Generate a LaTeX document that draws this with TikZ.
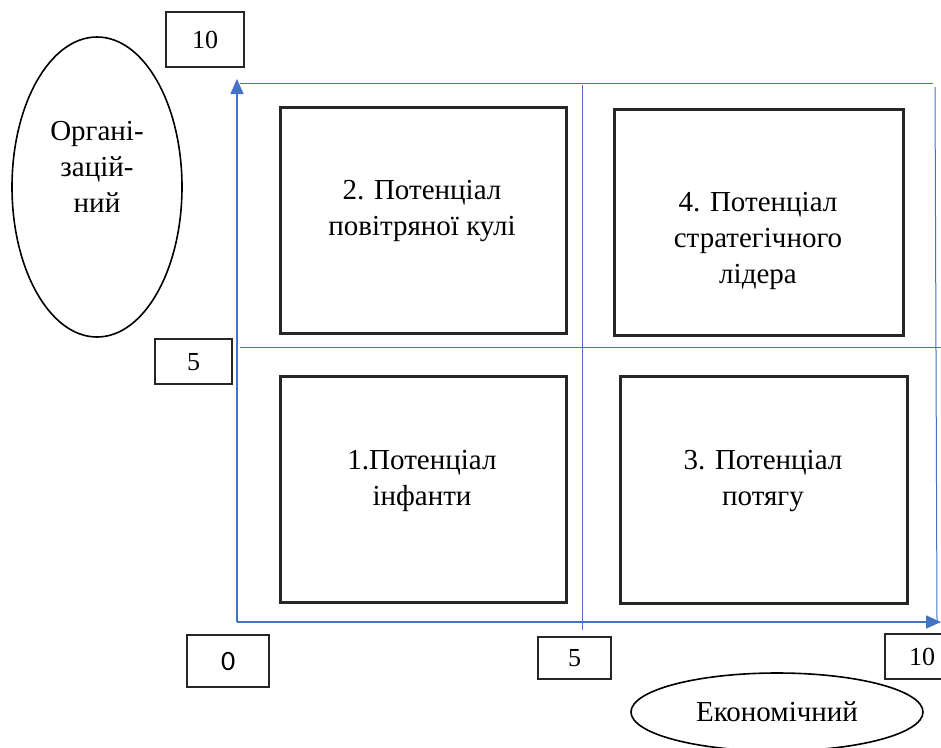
\documentclass[tikz,border=0pt]{standalone}
\usepackage{fontspec}
\setmainfont{Liberation Serif}
\newfontfamily\calib{Carlito}
\usetikzlibrary{shapes.geometric,arrows.meta}
\definecolor{axisblue}{RGB}{68,114,196}
\begin{document}
\begin{tikzpicture}[x=1pt,y=-1pt,
  quad/.style={draw=black!85,line width=2.6pt,inner sep=0pt,anchor=north west},
  lab/.style={draw=black!85,line width=2.4pt,inner sep=0pt,anchor=north west,font=\fontsize{26}{30}\selectfont},
  txt/.style={align=center,font=\fontsize{29}{36}\selectfont,inner sep=0pt},
  oval/.style={draw=black,line width=1.6pt,ellipse,inner sep=0pt},
  ax/.style={draw=axisblue,line width=1.6pt,-{Triangle[length=15pt,width=13pt]}},
  grid/.style={draw=axisblue,line width=1pt}]
\useasboundingbox (0,0) rectangle (941,747);
% ellipses
\node[oval,minimum width=170pt,minimum height=300pt] (org) at (97,187) {};
\node[txt] (orgt) at (97,167) {Органі-\\зацій-\\ний};
\node[oval,minimum width=292pt,minimum height=78pt] (eco) at (777,712) {};
\node[txt] (ecot) at (777,712) {Економічний};
% value labels
\node[lab,minimum width=78pt,minimum height=55pt] (l10) at (165,11) {10};
\node[lab,minimum width=77pt,minimum height=45pt] (l5y) at (154,338) {5};
\node[lab,minimum width=82pt,minimum height=52pt,font=\calib\fontsize{28}{30}\selectfont] (l0) at (186,634) {0};
\node[lab,minimum width=73pt,minimum height=42pt] (l5x) at (537,636) {5};
\node[lab,minimum width=80pt,minimum height=45pt,text width=56pt,align=left] (l10x) at (884,633) {\hspace*{12pt}10};
% grid
\coordinate (O) at (237,622);
\coordinate (Ytop) at (237,79);
\coordinate (Xend) at (941,622);
\coordinate (tl) at (240,83);
\coordinate (tr) at (933,83);
\coordinate (rt) at (935,87);
\coordinate (rb) at (937,622);
\coordinate (ml) at (240,347);
\coordinate (mr) at (941,347);
\coordinate (mt) at (582,85);
\coordinate (mb) at (582,630);
\draw[grid] (tl) -- (tr);
\draw[grid] (rt) -- (rb);
\draw[grid] (ml) -- (mr);
\draw[grid] (mt) -- (mb);
\draw[ax] (O) -- (Ytop);
\draw[ax] (O) -- (Xend);
% quadrants
\node[quad,minimum width=286pt,minimum height=226pt] (q2) at (279,106) {};
\node[quad,minimum width=289pt,minimum height=226pt] (q4) at (613,108) {};
\node[quad,minimum width=286pt,minimum height=226pt] (q1) at (279,375) {};
\node[quad,minimum width=287pt,minimum height=227pt] (q3) at (619,375) {};
\node[txt] (t2) at (422,211) {2. Потенціал\\повітряної кулі};
\node[txt] (t4) at (758,241) {4. Потенціал\\стратегічного\\лідера};
\node[txt] (t1) at (422,481) {1.Потенціал\\інфанти};
\node[txt] (t3) at (763,481) {3. Потенціал\\потягу};
\end{tikzpicture}
\end{document}
